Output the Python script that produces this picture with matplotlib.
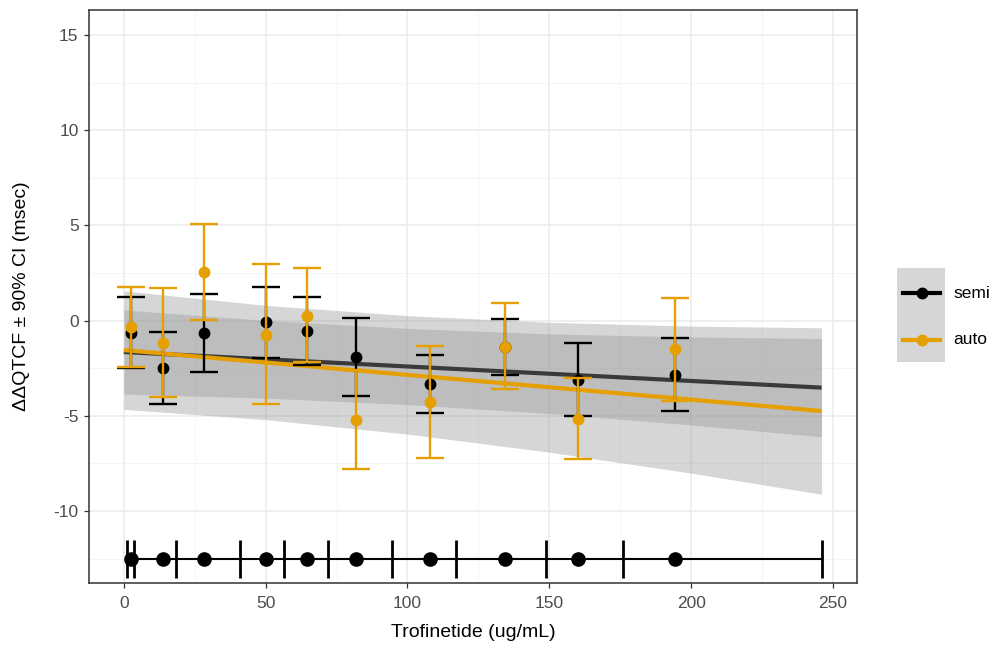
import numpy as np
import matplotlib
matplotlib.use("Agg")
import matplotlib.pyplot as plt
from matplotlib.patches import Rectangle
from matplotlib.lines import Line2D

plt.rcParams['font.family'] = ['Liberation Sans', 'DejaVu Sans']
plt.rcParams['axes.unicode_minus'] = False

# binned concentrations (median of each decile) and ddQTcF with 90% CI
conc_median = [2.5, 13.7, 28.2, 50.0, 64.4, 81.7, 108.1, 134.5, 160.2, 194.4]
bin_edges = [1.1, 3.4, 18.5, 40.8, 56.4, 71.9, 94.6, 117.1, 148.9, 175.9, 246.2]

semi_mean = [-0.63, -2.51, -0.67, -0.09, -0.55, -1.89, -3.35, -1.40, -3.12, -2.86]
semi_lo = [-2.48, -4.40, -2.68, -1.95, -2.33, -3.94, -4.87, -2.86, -4.99, -4.75]
semi_hi = [1.22, -0.62, 1.38, 1.76, 1.22, 0.14, -1.79, 0.07, -1.19, -0.93]

auto_mean = [-0.35, -1.16, 2.54, -0.76, 0.26, -5.20, -4.26, -1.40, -5.19, -1.51]
auto_lo = [-2.45, -4.03, 0.02, -4.40, -2.16, -7.80, -7.20, -3.61, -7.29, -4.22]
auto_hi = [1.78, 1.73, 5.07, 2.97, 2.75, -2.60, -1.32, 0.91, -3.00, 1.17]

# linear fits with 90% confidence bands
fit_x = [0, 50, 100, 150, 200, 246]
semi_fit = [-1.65, -2.03, -2.41, -2.79, -3.17, -3.52]
semi_band_lo = [-3.86, -4.07, -4.41, -4.88, -5.48, -6.10]
semi_band_hi = [0.56, 0.01, -0.41, -0.70, -0.86, -0.94]
auto_fit = [-1.55, -2.20, -2.85, -3.50, -4.15, -4.75]
auto_band_lo = [-4.66, -5.20, -5.96, -6.91, -8.01, -9.12]
auto_band_hi = [1.56, 0.80, 0.26, -0.09, -0.29, -0.38]

conc_row_y = -12.5

BLACK = "#000000"
ORANGE = "#E69F00"
FIT_BLACK = "#3a3a3a"
BAND = "#999999"

fig = plt.figure(figsize=(9.98, 6.49), dpi=100)
ax = fig.add_axes([89 / 998, 1 - 583 / 649, (857 - 89) / 998, (583 - 10) / 649])

ax.set_xlim(-12.3, 258.5)
ax.set_ylim(-13.78, 16.31)

# theme_bw-like grid
for v in [25, 75, 125, 175, 225]:
    ax.axvline(v, color="#f2f2f2", lw=0.6, zorder=0)
for v in [12.5, 7.5, 2.5, -2.5, -7.5, -12.5]:
    ax.axhline(v, color="#f2f2f2", lw=0.6, zorder=0)
for v in [0, 50, 100, 150, 200, 250]:
    ax.axvline(v, color="#ebebeb", lw=1.1, zorder=0)
for v in [-10, -5, 0, 5, 10, 15]:
    ax.axhline(v, color="#ebebeb", lw=1.1, zorder=0)

# confidence bands and fitted lines
ax.fill_between(fit_x, auto_band_lo, auto_band_hi, color=BAND, alpha=0.4, lw=0, zorder=1)
ax.fill_between(fit_x, semi_band_lo, semi_band_hi, color=BAND, alpha=0.4, lw=0, zorder=1)
ax.plot(fit_x, semi_fit, color=FIT_BLACK, lw=3.0, zorder=2, solid_capstyle="butt")
ax.plot(fit_x, auto_fit, color=ORANGE, lw=3.0, zorder=2, solid_capstyle="butt")

# binned observations
def draw_bins(mean, lo, hi, color, z):
    mean = np.array(mean)
    yerr = [mean - np.array(lo), np.array(hi) - mean]
    ax.errorbar(conc_median, mean, yerr=yerr, fmt="o", color=color, ms=7.5,
                elinewidth=1.7, capsize=10, capthick=1.7, zorder=z)

draw_bins(semi_mean, semi_lo, semi_hi, BLACK, 3)
draw_bins(auto_mean, auto_lo, auto_hi, ORANGE, 4)

# concentration deciles along the bottom
ax.plot([bin_edges[0], bin_edges[-1]], [conc_row_y, conc_row_y], color=BLACK, lw=1.5, zorder=3)
ax.vlines(bin_edges, conc_row_y - 1.0, conc_row_y + 1.0, color=BLACK, lw=2.0, zorder=3)
ax.plot(conc_median, [conc_row_y] * len(conc_median), "o", color=BLACK, ms=9.5, zorder=4)

ax.set_xticks([0, 50, 100, 150, 200, 250])
ax.set_yticks([-10, -5, 0, 5, 10, 15])
ax.tick_params(axis="both", length=3.5, width=0.9, color="#333333",
               labelcolor="#4d4d4d", labelsize=12.5)
ax.tick_params(axis="x", pad=6)
ax.tick_params(axis="y", pad=4)
for s in ax.spines.values():
    s.set_color("#333333")
    s.set_linewidth(1.1)

ax.set_xlabel("Trofinetide (ug/mL)", fontsize=14, labelpad=9)
ax.set_ylabel("ΔΔQTCF ± 90% CI (msec)", fontsize=14, labelpad=17)

# legend with shaded keys
key_left, key_w = 897 / 998, 48 / 998
fig.patches.append(Rectangle((key_left, 1 - 362 / 649), key_w, 94 / 649,
                             transform=fig.transFigure, facecolor="#d6d6d6",
                             edgecolor="none"))
for label, color, ypx in [("semi", BLACK, 293), ("auto", ORANGE, 340)]:
    yf = 1 - ypx / 649
    fig.lines.append(Line2D([903 / 998, 940 / 998], [yf, yf], transform=fig.transFigure,
                            color=color, lw=3.0))
    fig.lines.append(Line2D([921.5 / 998], [yf], transform=fig.transFigure,
                            color=color, marker="o", ms=7.5, lw=0))
    fig.text(953 / 998, yf, label, fontsize=12.5, va="center", ha="left", color="#000000")

fig.savefig("out.png", dpi=100)
